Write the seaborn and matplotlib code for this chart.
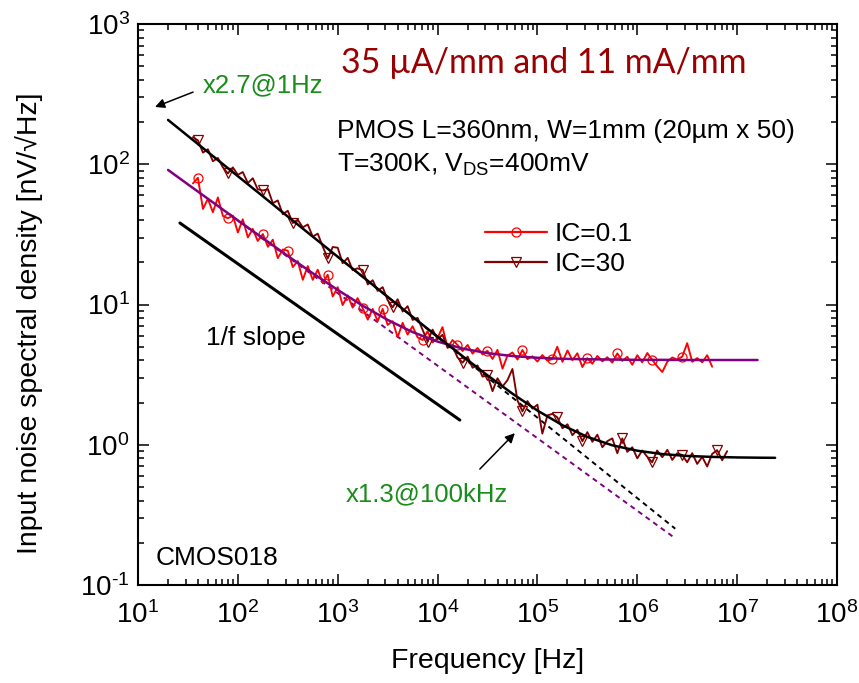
import numpy as np
import pandas as pd
import matplotlib
matplotlib.use("Agg")
import matplotlib.pyplot as plt
from matplotlib.lines import Line2D
from matplotlib.ticker import LogLocator, NullFormatter, FuncFormatter
import seaborn as sns

# ---------------- data ----------------
freq = [35.5, 39.8, 44.7, 50.1, 56.2, 63.1, 70.8, 79.4, 89.1,
        100, 112, 126, 141, 158, 178, 200, 224, 251, 282, 316, 355, 398, 447, 501, 562, 631, 708, 794, 891,
        1.00e3, 1.12e3, 1.26e3, 1.41e3, 1.58e3, 1.78e3, 2.00e3, 2.24e3, 2.51e3, 2.82e3,
        3.16e3, 3.55e3, 3.98e3, 4.47e3, 5.01e3, 5.62e3, 6.31e3, 7.08e3, 7.94e3, 8.91e3,
        1.00e4, 1.12e4, 1.26e4, 1.41e4, 1.58e4, 1.78e4, 2.00e4, 2.24e4, 2.51e4, 2.82e4,
        3.16e4, 3.55e4, 3.98e4, 4.47e4, 5.01e4, 5.62e4, 6.31e4, 7.08e4, 7.94e4, 8.91e4,
        1.00e5, 1.12e5, 1.26e5, 1.41e5, 1.58e5, 1.78e5, 2.00e5, 2.24e5, 2.51e5, 2.82e5,
        3.16e5, 3.55e5, 3.98e5, 4.47e5, 5.01e5, 5.62e5, 6.31e5, 7.08e5, 7.94e5, 8.91e5,
        1.00e6, 1.12e6, 1.26e6, 1.41e6, 1.58e6, 1.78e6, 2.00e6, 2.24e6, 2.51e6, 2.82e6,
        3.16e6, 3.55e6, 3.98e6, 4.47e6, 5.01e6, 5.62e6, 6.31e6, 7.08e6, 7.94e6]

noise_ic01 = [73, 80, 48, 56.7, 45.5, 58, 42.8, 41.2, 43, 32.6,
              40.5, 30.1, 34.6, 28.4, 31.8, 25.8, 29.0, 21.4, 24.7, 24.2,
              18.5, 20.4, 15.0, 18.8, 15.0, 17.7, 14.2, 16.3, 11.4, 13.3,
              9.9, 11.6, 9.5, 11.1, 9.4, 7.8, 9.3, 7.6, 9.3, 7.15,
              7.6, 5.85, 7.4, 6.1, 7.0, 5.83, 5.58, 6.45, 5.37, 5.77,
              6.9, 4.92, 5.58, 5.16, 4.66, 5.15, 4.46, 4.90, 4.41, 4.68,
              4.09, 4.75, 3.49, 4.32, 4.55, 4.05, 4.74, 4.08, 4.27, 3.92,
              4.36, 3.97, 4.09, 5.0, 3.90, 4.70, 4.01, 4.49, 3.58, 4.15,
              3.78, 4.30, 3.93, 4.21, 3.85, 4.48, 3.96, 4.24, 3.72, 4.35,
              3.87, 4.51, 4.03, 3.63, 3.30, 3.91, 4.19, 4.05, 4.25, 5.3,
              3.9, 4.15, 3.87, 4.35, 3.6]

noise_ic30 = [156, 148, 121, 128, 105, 111, 95, 86, 95, 84,
              88, 73.4, 79.5, 66.3, 65, 66.4, 52.8, 55.2, 44.0, 46.6,
              38.1, 40.2, 35.5, 37.2, 30.5, 32.0, 25.9, 21.3, 25.7, 25.4,
              19.7, 21.5, 17.6, 18.1, 17.6, 13.9, 14.9, 12.5, 13.3, 10.75,
              9.54, 10.9, 8.92, 9.73, 7.76, 8.03, 6.60, 5.44, 6.62, 5.66,
              6.08, 4.92, 5.10, 4.20, 3.85, 4.25, 3.54, 3.68, 3.06, 3.13,
              2.41, 2.98, 2.60, 2.89, 3.47, 2.07, 1.73, 2.05, 1.81, 1.93,
              1.20, 1.62, 1.66, 1.57, 1.31, 1.40, 1.17, 1.28, 1.06, 1.23,
              1.05, 1.18, 0.96, 1.06, 1.11, 0.87, 1.11, 0.89, 0.96, 0.80,
              0.91, 0.82, 0.75, 0.91, 0.815, 0.92, 0.78, 0.87, 0.845, 0.75,
              0.87, 0.73, 0.82, 0.70, 0.86, 0.915, 0.775, 0.90]

fit30_freq = [20, 31.6, 56.2, 100, 178, 316, 562, 1e3, 1.78e3, 3.16e3, 5.62e3, 1e4, 1.78e4,
              3.16e4, 5.62e4, 1e5, 1.78e5, 3.16e5, 5.62e5, 1e6, 1.78e6, 3.16e6, 5.62e6, 1e7, 1.78e7, 2.4e7]
fit_ic30 = [207, 159.1, 114.4, 82.2, 59.1, 42.4, 30.5, 21.9, 15.77, 11.35, 8.17, 5.90, 4.28,
            3.125, 2.314, 1.754, 1.378, 1.138, 0.991, 0.907, 0.858, 0.832, 0.819, 0.812, 0.808, 0.807]

fit01_freq = [20, 31.6, 56.2, 100, 178, 316, 562, 1e3, 1.78e3, 3.16e3, 5.62e3, 1e4, 1.78e4,
              3.16e4, 5.62e4, 1e5, 1.78e5, 3.16e5, 5.62e5, 1e6, 1.78e6, 3.16e6, 5.62e6, 1e7, 1.6e7]
fit_ic01 = [91.1, 71.9, 53.5, 39.8, 29.7, 22.2, 16.7, 12.70, 9.80, 7.77, 6.36, 5.44, 4.85,
            4.50, 4.29, 4.17, 4.10, 4.07, 4.05, 4.03, 4.03, 4.02, 4.02, 4.02, 4.02]

flicker30_freq = [1e3, 2.4e6]
flicker_ic30 = [21.9, 0.252]
flicker01_freq = [100, 2.32e6]
flicker_ic01 = [39.6, 0.219]

slope_freq = [26.3, 1.67e4]
slope_val = [38.1, 1.50]

marks_ic30 = [1, 7, 14, 20, 27, 34, 40, 47, 54, 59, 66, 73, 78, 86, 92, 98, 105]
marks_ic01 = [1, 7, 14, 19, 27, 34, 38, 46, 53, 59, 66, 72, 79, 85, 92, 98]

# ---------------- style ----------------
sns.set_theme(style="ticks")
plt.rcParams["font.family"] = ["Liberation Sans", "DejaVu Sans"]
plt.rcParams["mathtext.fontset"] = "custom"
plt.rcParams["mathtext.rm"] = "Liberation Sans"
plt.rcParams["mathtext.it"] = "Liberation Sans:italic"
plt.rcParams["mathtext.bf"] = "Liberation Sans:bold"
plt.rcParams["mathtext.default"] = "regular"
plt.rcParams["axes.unicode_minus"] = False
for k in ("text.color", "axes.labelcolor", "xtick.color", "ytick.color", "axes.edgecolor"):
    plt.rcParams[k] = "black"

W, H = 859, 683
fig = plt.figure(figsize=(W / 100, H / 100), dpi=100)
ax = fig.add_axes([138 / W, 1 - 585 / H, 699 / W, 561 / H])

RED = "#FF0000"
DRED = "#800000"
PURPLE = "#800080"
GREEN = "#1A8C1A"
TITLE = "#9B0000"

df01 = pd.DataFrame({"f": freq[:len(noise_ic01)], "v": noise_ic01})
df30 = pd.DataFrame({"f": freq[:len(noise_ic30)], "v": noise_ic30})

# dashed 1/f extensions
sns.lineplot(x=flicker01_freq, y=flicker_ic01, ax=ax, color=PURPLE, lw=1.4,
             linestyle=(0, (2.6, 2.2)), estimator=None, sort=False, zorder=2)
sns.lineplot(x=flicker30_freq, y=flicker_ic30, ax=ax, color="black", lw=1.4,
             linestyle=(0, (2.6, 2.2)), estimator=None, sort=False, zorder=2)

# measured data
sns.lineplot(data=df01, x="f", y="v", ax=ax, color=RED, lw=1.35, marker="o",
             markevery=marks_ic01, markersize=6.5, markerfacecolor="none",
             markeredgecolor=RED, markeredgewidth=0.9, estimator=None, sort=False, zorder=3)
sns.lineplot(data=df30, x="f", y="v", ax=ax, color=DRED, lw=1.35, marker="v",
             markevery=marks_ic30, markersize=7.5, markerfacecolor="none",
             markeredgecolor=DRED, markeredgewidth=0.9, estimator=None, sort=False, zorder=3)

# fits
sns.lineplot(x=fit01_freq, y=fit_ic01, ax=ax, color=PURPLE, lw=1.8,
             estimator=None, sort=False, zorder=4)
sns.lineplot(x=fit30_freq, y=fit_ic30, ax=ax, color="black", lw=1.8,
             estimator=None, sort=False, zorder=4)

# 1/f slope guide
sns.lineplot(x=slope_freq, y=slope_val, ax=ax, color="black", lw=2.2,
             estimator=None, sort=False, zorder=4)

ax.set_xscale("log")
ax.set_yscale("log")
ax.set_xlim(10, 1e8)
ax.set_ylim(0.1, 1000)


def decade_fmt(v, pos):
    e = int(round(np.log10(v)))
    s = str(e).replace("-", "\u2010")
    return "$\\mathdefault{10^{%s}}$" % s


for a in (ax.xaxis, ax.yaxis):
    a.set_major_locator(LogLocator(base=10, numticks=20))
    a.set_minor_locator(LogLocator(base=10, subs=np.arange(2, 10), numticks=20))
    a.set_major_formatter(FuncFormatter(decade_fmt))
    a.set_minor_formatter(NullFormatter())

for s in ax.spines.values():
    s.set_linewidth(1.5)
    s.set_color("black")
ax.tick_params(which="both", direction="in", top=True, right=True, width=1.1, color="black")
ax.tick_params(which="major", length=8)
ax.tick_params(which="minor", length=4.3)
ax.tick_params(axis="x", which="major", pad=12, labelsize=20, labelcolor="black")
ax.tick_params(axis="y", which="major", pad=6, labelsize=20, labelcolor="black")

ax.set_xlabel("Frequency [Hz]", fontsize=20.5, color="black")
ax.set_ylabel("Input noise spectral density [nV/\u221aHz]", fontsize=20.5, color="black")
ax.xaxis.label.set_va("center")
ax.yaxis.label.set_va("center")
ax.xaxis.set_label_coords(0.5, (585 - 661) / 561)
ax.yaxis.set_label_coords((29 - 138) / 699, (585 - 323) / 561)

# legend
h01 = Line2D([], [], color=RED, lw=1.6, marker="o", markersize=6.5,
             markerfacecolor="none", markeredgecolor=RED, markeredgewidth=0.9)
h30 = Line2D([], [], color=DRED, lw=1.6, marker="v", markersize=7.5,
             markerfacecolor="none", markeredgecolor=DRED, markeredgewidth=0.9)
leg = ax.legend(handles=[h01, h30], labels=["IC=0.1", "IC=30"], loc="upper left",
                bbox_to_anchor=(485 / W, 1 - 222 / H), bbox_transform=fig.transFigure,
                frameon=False, fontsize=19, handlelength=2.35, handletextpad=0.3,
                labelspacing=0.22, borderpad=0, borderaxespad=0, numpoints=1)
for t in leg.get_texts():
    t.set_color("black")

# texts
def ftext(px, py, s, **kw):
    fig.text(px / W, 1 - py / H, s, va="baseline", ha="left", **kw)

ftext(341, 73, "35 \u00b5A/mm and 11 mA/mm", color=TITLE, fontsize=24.4,
      family=["Lato", "DejaVu Sans"])
ftext(203, 92, "x2.7@1Hz", color=GREEN, fontsize=18.5)
ftext(337, 138, "PMOS L=360nm, W=1mm (20\u00b5m x 50)", fontsize=19, color="black")
ftext(337, 172, "T=300K, V$_{DS}$=400mV", fontsize=19, color="black")
ftext(206, 345, "1/f slope", fontsize=19, color="black")
ftext(156, 565, "CMOS018", fontsize=19, color="black")
ftext(346, 501, "x1.3@100kHz", color=GREEN, fontsize=18.5)

# arrows
ax.annotate("", xy=(14.8, 256), xytext=(35.6, 327),
            arrowprops=dict(arrowstyle="-|>", color="black", lw=1.1,
                            mutation_scale=14, shrinkA=0, shrinkB=0))
ax.annotate("", xy=(5.94e4, 1.21), xytext=(2.65e4, 0.671),
            arrowprops=dict(arrowstyle="-|>", color="black", lw=1.1,
                            mutation_scale=14, shrinkA=0, shrinkB=0))

fig.savefig("out.png", dpi=100, facecolor="white")
